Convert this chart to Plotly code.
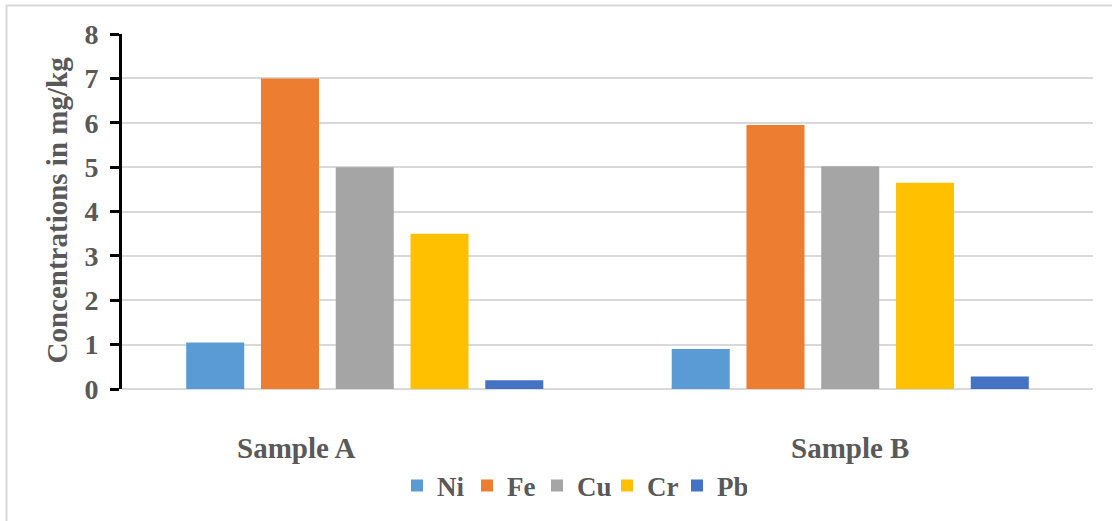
import plotly.graph_objects as go

categories = ["Sample A", "Sample B"]
metals = ["Ni", "Fe", "Cu", "Cr", "Pb"]
ni = [1.05, 0.9]
fe = [7.0, 5.95]
cu = [5.0, 5.02]
cr = [3.5, 4.65]
pb = [0.2, 0.28]
y_ticks = [0, 1, 2, 3, 4, 5, 6, 7, 8]

series = [ni, fe, cu, cr, pb]
colors = ["#5B9BD5", "#ED7D31", "#A5A5A5", "#FFC000", "#4472C4"]

W, H = 1112, 521
L, R, T, B = 122, 19, 34, 131
pw, ph = W - L - R, H - T - B

font_family = "Liberation Serif"
gray = "#595959"

fig = go.Figure()
for name, vals, col in zip(metals, series, colors):
    fig.add_trace(go.Bar(name=name, x=categories, y=vals, marker_color=col,
                         marker_line_width=0))

def px_x(p):
    return (p - L) / pw

def px_y(p):
    return (H - B - p) / ph

# category labels (the reference places "Sample A" left of its group centre)
label_shift = [-69, 0]
cat_annotations = [
    dict(text="<b>%s</b>" % c, xref="x", yref="paper", x=c, y=px_y(449),
         xshift=s, xanchor="center", yanchor="middle", showarrow=False,
         font=dict(family=font_family, size=29, color=gray))
    for c, s in zip(categories, label_shift)
]

fig.update_layout(
    width=W, height=H,
    margin=dict(l=L, r=R, t=T, b=B),
    paper_bgcolor="white", plot_bgcolor="white",
    barmode="group", bargap=0.23, bargroupgap=0.224,
    font=dict(family=font_family, color=gray, size=27),
    xaxis=dict(showline=False, ticks="", showgrid=False, showticklabels=False),
    yaxis=dict(range=[0, 8], tickvals=y_ticks, showgrid=True, gridcolor="#D9D9D9",
               gridwidth=2, zeroline=True, zerolinecolor="#D9D9D9", zerolinewidth=2,
               showline=True, linecolor="black", linewidth=3,
               ticks="outside", ticklen=9, tickwidth=3, tickcolor="black",
               tickfont=dict(family=font_family, size=28, color=gray, weight="bold"),
               ticklabelstandoff=6),
    legend=dict(orientation="h", x=px_x(572), xanchor="center", y=px_y(486),
                yanchor="middle", font=dict(family=font_family, size=27, color=gray,
                                            weight="bold"),
                itemwidth=30, tracegroupgap=0, entrywidth=25, entrywidthmode="pixels"),
    showlegend=True,
    annotations=[dict(text="<b>Concentrations in mg/kg</b>", textangle=-90,
                      xref="paper", yref="paper", x=px_x(57), y=px_y(211),
                      xanchor="center", yanchor="middle", showarrow=False,
                      font=dict(family=font_family, size=29, color=gray))]
                + cat_annotations,
    shapes=[dict(type="rect", xref="paper", yref="paper",
                 x0=px_x(6.5), x1=px_x(1130), y0=px_y(5.5), y1=px_y(540),
                 line=dict(color="#D9D9D9", width=2), layer="below")],
)

fig.write_html("out.html", config={"displayModeBar": False},
               post_script="document.body.style.margin='0px';")
